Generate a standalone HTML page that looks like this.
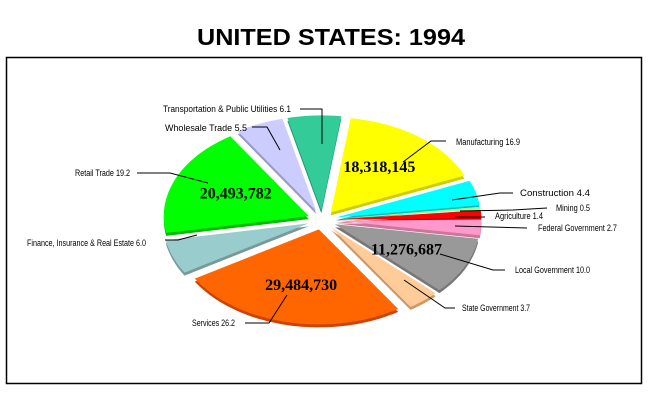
<!DOCTYPE html>
<html><head><meta charset="utf-8"><style>
html,body{margin:0;padding:0;background:#fff;width:650px;height:400px;overflow:hidden}
svg{display:block}
.lbl{font-family:"Liberation Sans",sans-serif;font-size:9px;fill:#000}
.val{font-family:"Liberation Serif",serif;font-size:16px;font-weight:bold;fill:#000}
</style></head><body>
<svg id="chart" width="650" height="400" viewBox="0 0 650 400">
<text x="331" y="45" text-anchor="middle" font-family="Liberation Sans,sans-serif" font-weight="bold" font-size="23" textLength="268" lengthAdjust="spacingAndGlyphs">UNITED STATES:  1994</text>
<rect x="6.5" y="57.5" width="635" height="326" fill="none" stroke="#000" stroke-width="1.5"/>
<g id="slices"></g>
<g id="labels"></g>
</svg>
<script>
const categories = ["Transportation & Public Utilities","Manufacturing","Construction","Mining","Agriculture","Federal Government","Local Government","State Government","Services","Finance, Insurance & Real Estate","Retail Trade","Wholesale Trade"];
const percents = [6.1,16.9,4.4,0.5,1.4,2.7,10.0,3.7,26.2,6.0,19.2,5.5];
const valueLabels = ["","18,318,145","","","","","11,276,687","","29,484,730","","20,493,782",""];
const colors = ["#33cc99","#ffff00","#00ffff","#99ff99","#ff0000","#ff99cc","#999999","#ffcc99","#ff6600","#99cccc","#00ff00","#ccccff"];
const sides = ["#229977","#cccc00","#00bbbb","#66cc66","#bb0000","#cc7799","#777777","#cc9966","#cc4400","#779999","#00bb00","#9999cc"];

const cx=322, cy=220, rx=145, ry=95, explode=12, depth=3, startDeg=256.5;
const NS="http://www.w3.org/2000/svg";
const total=percents.reduce((a,b)=>a+b,0);
function pt(a,ox,oy,dy){const r=a*Math.PI/180;return [cx+ox+rx*Math.cos(r), cy+oy+ry*Math.sin(r)+(dy||0)];}
function wedge(a0,a1,ox,oy,dy){
  let d="M"+(cx+ox)+","+(cy+oy+dy);
  const n=Math.max(2,Math.ceil((a1-a0)/2));
  for(let i=0;i<=n;i++){const p=pt(a0+(a1-a0)*i/n,ox,oy,dy);d+=" L"+p[0].toFixed(1)+","+p[1].toFixed(1);}
  return d+" Z";
}
const gS=document.getElementById("slices");
let a=startDeg;
const geo=[];
percents.forEach((v,i)=>{
  const span=v/total*360, a0=a, a1=a+span; a=a1;
  const mid=(a0+a1)/2*Math.PI/180;
  const ox=explode*Math.cos(mid)*1.2, oy=explode*Math.sin(mid)*0.8;
  geo.push({a0,a1,ox,oy});
});
geo.forEach((g,i)=>{
  const p=document.createElementNS(NS,"path");
  p.setAttribute("d",wedge(g.a0,g.a1,g.ox,g.oy,depth));
  p.setAttribute("fill",sides[i]);
  
  
  gS.appendChild(p);
});
geo.forEach((g,i)=>{
  const p=document.createElementNS(NS,"path");
  p.setAttribute("d",wedge(g.a0,g.a1,g.ox,g.oy,0));
  p.setAttribute("fill",colors[i]);
  
  
  const t=document.createElementNS(NS,"title");t.textContent=categories[i]+" "+percents[i];p.appendChild(t);
  gS.appendChild(p);
});
geo.forEach((g,i)=>{
  if(!valueLabels[i])return;
  const m=(g.a0+g.a1)/2, p=pt(m,g.ox,g.oy,0);
  const x=cx+g.ox+(p[0]-cx-g.ox)*0.55, y=cy+g.oy+(p[1]-cy-g.oy)*0.6;
  const t=document.createElementNS(NS,"text");
  t.setAttribute("x",x.toFixed(1));t.setAttribute("y",(y+5).toFixed(1));
  t.setAttribute("text-anchor","middle");t.setAttribute("class","val");
  t.textContent=valueLabels[i];
  
  
  document.getElementById("labels").appendChild(t);
});
const labelLayout=[
 {x:163,y:112,w:128,line:"300,109 322,109 322,144"},
 {x:456,y:145,w:64,line:"403,162 431,141 446,141"},
 {x:520,y:196,w:70,line:"452,200 500,193 513,193"},
 {x:556,y:211,w:34,line:"460,211 513,210 547,208"},
 {x:495,y:219,w:48,line:"455,217 485,217"},
 {x:538,y:231,w:79,line:"455,226 527,228"},
 {x:515,y:273,w:75,line:"440,254 493,270 505,270"},
 {x:462,y:311,w:68,line:"404,280 445,308 455,308"},
 {x:192,y:326,w:43,line:"287,295 269,323 245,323"},
 {x:27,y:246,w:119,line:"197,235 178,240 165,240"},
 {x:75,y:176,w:55,line:"208,183 170,173 137,173"},
 {x:165,y:131,w:82,line:"280,150 267,127 252,127"}
];
const gL=document.getElementById("labels");
categories.forEach((c,i)=>{
  const L=labelLayout[i];
  const pl=document.createElementNS(NS,"polyline");
  pl.setAttribute("points",L.line);pl.setAttribute("fill","none");pl.setAttribute("stroke","#000");pl.setAttribute("stroke-width","1");
  
  
  gL.appendChild(pl);
  const t=document.createElementNS(NS,"text");
  t.setAttribute("x",L.x);t.setAttribute("y",L.y);t.setAttribute("class","lbl");
  t.setAttribute("textLength",L.w);t.setAttribute("lengthAdjust","spacingAndGlyphs");
  t.textContent=c+" "+percents[i].toFixed(1);
  
  
  gL.appendChild(t);
});
</script>
</body></html>
